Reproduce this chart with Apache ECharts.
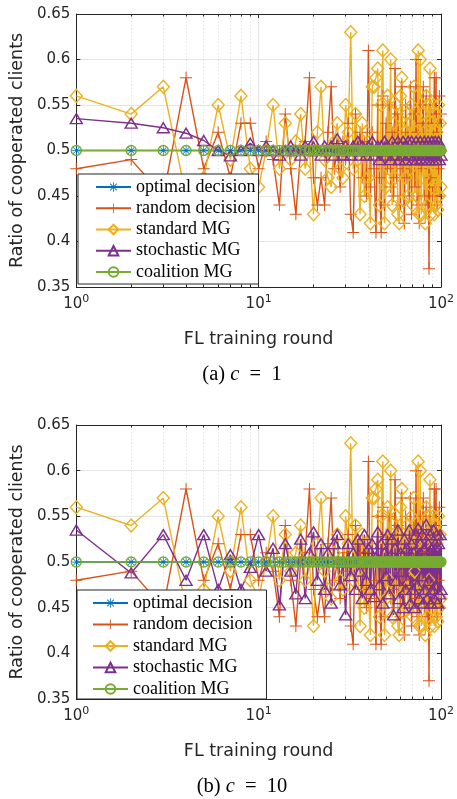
<!DOCTYPE html>
<html><head><meta charset="utf-8">
<script src="https://cdn.jsdelivr.net/npm/echarts@6/dist/echarts.min.js"></script>
<style>html,body{margin:0;padding:0;background:#fff}#c{width:457px;height:799px}</style>
</head><body><div id="c"></div>
<script>
const rounds = [1,2,3,4,5,6,7,8,9,10,11,12,13,14,15,16,17,18,19,20,21,22,23,24,25,26,27,28,29,30,31,32,33,34,35,36,37,38,39,40,41,42,43,44,45,46,47,48,49,50,51,52,53,54,55,56,57,58,59,60,61,62,63,64,65,66,67,68,69,70,71,72,73,74,75,76,77,78,79,80,81,82,83,84,85,86,87,88,89,90,91,92,93,94,95,96,97,98,99,100];
const yTicks = [0.35,0.4,0.45,0.5,0.55,0.6,0.65];
const seriesNames = ['optimal decision','random decision','standard MG','stochastic MG','coalition MG'];
const optimalDecision = [0.5,0.5,0.5,0.5,0.5,0.5,0.5,0.5,0.5,0.5,0.5,0.5,0.5,0.5,0.5,0.5,0.5,0.5,0.5,0.5,0.5,0.5,0.5,0.5,0.5,0.5,0.5,0.5,0.5,0.5,0.5,0.5,0.5,0.5,0.5,0.5,0.5,0.5,0.5,0.5,0.5,0.5,0.5,0.5,0.5,0.5,0.5,0.5,0.5,0.5,0.5,0.5,0.5,0.5,0.5,0.5,0.5,0.5,0.5,0.5,0.5,0.5,0.5,0.5,0.5,0.5,0.5,0.5,0.5,0.5,0.5,0.5,0.5,0.5,0.5,0.5,0.5,0.5,0.5,0.5,0.5,0.5,0.5,0.5,0.5,0.5,0.5,0.5,0.5,0.5,0.5,0.5,0.5,0.5,0.5,0.5,0.5,0.5,0.5,0.5];
const coalitionMG = [0.5,0.5,0.5,0.5,0.5,0.5,0.5,0.5,0.5,0.5,0.5,0.5,0.5,0.5,0.5,0.5,0.5,0.5,0.5,0.5,0.5,0.5,0.5,0.5,0.5,0.5,0.5,0.5,0.5,0.5,0.5,0.5,0.5,0.5,0.5,0.5,0.5,0.5,0.5,0.5,0.5,0.5,0.5,0.5,0.5,0.5,0.5,0.5,0.5,0.5,0.5,0.5,0.5,0.5,0.5,0.5,0.5,0.5,0.5,0.5,0.5,0.5,0.5,0.5,0.5,0.5,0.5,0.5,0.5,0.5,0.5,0.5,0.5,0.5,0.5,0.5,0.5,0.5,0.5,0.5,0.5,0.5,0.5,0.5,0.5,0.5,0.5,0.5,0.5,0.5,0.5,0.5,0.5,0.5,0.5,0.5,0.5,0.5,0.5,0.5];
const randomDecision = [0.48,0.49,0.45,0.58,0.48,0.52,0.47,0.53,0.53,0.48,
0.51,0.49,0.44,0.54,0.48,0.43,0.50,0.51,0.58,0.47,
0.44,0.47,0.44,0.52,0.57,0.48,0.50,0.46,0.51,0.49,
0.53,0.43,0.41,0.54,0.50,0.52,0.47,0.51,0.45,0.61,
0.46,0.52,0.48,0.41,0.55,0.47,0.41,0.56,0.44,0.53,
0.48,0.55,0.46,0.52,0.45,0.59,0.47,0.54,0.49,0.44,
0.57,0.48,0.42,0.55,0.47,0.52,0.45,0.57,0.43,0.50,
0.54,0.46,0.60,0.44,0.52,0.42,0.55,0.48,0.53,0.57,
0.45,0.51,0.56,0.44,0.53,0.37,0.55,0.47,0.54,0.45,
0.52,0.58,0.46,0.58,0.44,0.53,0.48,0.56,0.45,0.54];
const standardMG = [0.56,0.54,0.57,0.45,0.47,0.55,0.49,0.56,0.48,0.46,
0.50,0.55,0.48,0.53,0.49,0.51,0.54,0.48,0.50,0.43,
0.52,0.57,0.49,0.47,0.46,0.51,0.53,0.48,0.47,0.55,
0.52,0.63,0.48,0.54,0.49,0.43,0.53,0.45,0.52,0.47,
0.42,0.57,0.57,0.58,0.59,0.44,0.55,0.61,0.42,0.46,
0.56,0.48,0.60,0.44,0.53,0.47,0.55,0.43,0.42,0.56,
0.58,0.445,0.52,0.47,0.54,0.45,0.53,0.48,0.55,0.44,
0.57,0.49,0.52,0.45,0.61,0.43,0.60,0.43,0.54,0.47,
0.52,0.42,0.56,0.44,0.55,0.48,0.59,0.43,0.53,0.46,
0.55,0.43,0.54,0.44,0.52,0.435,0.55,0.45,0.53,0.46];
const stochasticMG_c1 = [0.535,0.53,0.525,0.519,0.511,0.50,0.494,0.50,0.508,0.50,
0.505,0.50,0.495,0.50,0.505,0.50,0.495,0.505,0.50,0.51,
0.50,0.495,0.505,0.50,0.505,0.495,0.513,0.50,0.495,0.505,
0.50,0.495,0.505,0.50,0.51,0.495,0.505,0.50,0.495,0.505,
0.50,0.51,0.495,0.50,0.505,0.49,0.505,0.50,0.51,0.495,
0.505,0.50,0.49,0.51,0.495,0.505,0.50,0.51,0.49,0.505,
0.495,0.51,0.50,0.49,0.505,0.51,0.495,0.50,0.51,0.49,
0.505,0.495,0.51,0.49,0.505,0.50,0.51,0.49,0.505,0.495,
0.51,0.49,0.505,0.50,0.51,0.49,0.505,0.495,0.51,0.49,
0.505,0.495,0.51,0.49,0.505,0.50,0.51,0.49,0.505,0.495];
const stochasticMG_c10 = [0.535,0.488,0.53,0.48,0.53,0.47,0.508,0.47,0.494,0.53,
0.49,0.515,0.453,0.52,0.49,0.465,0.525,0.46,0.51,0.533,
0.48,0.52,0.47,0.51,0.455,0.52,0.53,0.475,0.50,0.442,
0.52,0.485,0.51,0.47,0.525,0.49,0.46,0.53,0.48,0.515,
0.47,0.52,0.462,0.505,0.533,0.475,0.52,0.455,0.51,0.485,
0.53,0.465,0.50,0.525,0.442,0.515,0.48,0.535,0.46,0.51,
0.49,0.45,0.525,0.47,0.515,0.48,0.535,0.455,0.52,0.47,
0.51,0.45,0.53,0.475,0.537,0.46,0.52,0.485,0.53,0.455,
0.515,0.47,0.541,0.46,0.52,0.48,0.53,0.455,0.515,0.47,
0.535,0.46,0.52,0.475,0.53,0.455,0.52,0.465,0.53,0.47];

const colors = ['#0072BD','#D95319','#EDB120','#7E2F8E','#77AC30'];
const asterisk = 'path://M11,0h2v24h-2zM0,11h24v2h-24zM4.2,2.8L21.2,19.8L19.8,21.2L2.8,4.2zM19.8,2.8L21.2,4.2L4.2,21.2L2.8,19.8z';
const plus = 'path://M11,0h2v11h11v2h-11v11h-2v-11h-11v-2h11z';
const symbols = [asterisk, plus, 'diamond', 'triangle', 'circle'];
const symSizes = [9, 12, [12,13], [12,10], 10];
const hollow = [false, false, true, true, true];

function pairs(arr){ return rounds.map((r,i)=>[r, arr[i]]); }

function makeSeries(gi, dataArrs){
  return dataArrs.map((arr, k)=>({
    name: seriesNames[k], type:'line', xAxisIndex: gi*2, yAxisIndex: gi*2,
    data: pairs(arr), symbol: symbols[k], symbolSize: symSizes[k], showAllSymbol: true,
    color: colors[k],
    lineStyle: {color: colors[k], width: 1.4},
    itemStyle: hollow[k] ? {color:'rgba(255,255,255,0)', borderColor: colors[k], borderWidth: 1.4} : {color: colors[k], borderWidth:0},
    emphasis: {disabled: true}, z: 2
  }));
}

const axisCol = '#262626';
const sansFont = 'DejaVu Sans';
function xAx(gi, top){
  return {
    type:'log', logBase:10, min:1, max:100, gridIndex: gi, position: top ? 'top':'bottom',
    axisLine:{show:true, lineStyle:{color:axisCol, width:1}},
    axisTick:{show:true, inside:true, length:4, lineStyle:{color:axisCol}},
    minorTick:{show:true, splitNumber:9, length:2.5, lineStyle:{color:axisCol}},
    splitLine:{show: !top, lineStyle:{color:'#e3e3e3', width:1}},
    minorSplitLine:{show: !top, lineStyle:{color:'#e6e6e6', type:[1.5,2], width:1}},
    axisLabel:{show: !top, margin:7, color:axisCol, fontFamily:sansFont, fontSize:15,
      formatter: v => '10{s|' + Math.round(Math.log10(v)) + '}',
      rich:{s:{fontSize:11, fontFamily:sansFont, color:axisCol, padding:[0,0,9,0]}}},
    name: top ? '' : 'FL training round', nameLocation:'middle', nameGap:43,
    nameTextStyle:{fontFamily:sansFont, fontSize:17.5, color:axisCol}
  };
}
function yAx(gi, right){
  return {
    type:'value', min:0.35, max:0.65, interval:0.05, gridIndex: gi, position: right ? 'right':'left',
    axisLine:{show:true, lineStyle:{color:axisCol, width:1}},
    axisTick:{show:true, inside:true, length:4, lineStyle:{color:axisCol}},
    splitLine:{show: !right, lineStyle:{color:'#e3e3e3', width:1}},
    axisLabel:{show: !right, margin:6, color:axisCol, fontFamily:sansFont, fontSize:15},
    name: right ? '' : 'Ratio of cooperated clients', nameLocation:'middle', nameGap:49,
    nameTextStyle:{fontFamily:sansFont, fontSize:17.5, color:axisCol}
  };
}
function legend(left, top, pad, gap){
  return {
    orient:'vertical', left:left, top:top, itemWidth:35, itemHeight:12, itemGap:gap,
    padding: pad, backgroundColor:'#fff', borderColor:axisCol, borderWidth:1, borderRadius:0,
    textStyle:{fontFamily:'Liberation Serif', fontSize:18, color:'#000'},
    data: seriesNames, selectedMode:false, z: 20
  };
}

const chart = echarts.init(document.getElementById('c'), null, {renderer:'canvas'});
chart.setOption({
  animation:false, backgroundColor:'#fff',
  grid:[
    {left:76, top:14, width:367, height:273, show:false},
    {left:76, top:425, width:367, height:274, show:false}
  ],
  xAxis:[xAx(0,false), xAx(0,true), xAx(1,false), xAx(1,true)],
  yAxis:[yAx(0,false), yAx(0,true), yAx(1,false), yAx(1,true)],
  legend:[legend(78,174,[4,3,3,17],3.25), legend(77,590,[4,14,1,15],3.5)],
  series: makeSeries(0, [optimalDecision, randomDecision, standardMG, stochasticMG_c1, coalitionMG])
    .concat(makeSeries(1, [optimalDecision, randomDecision, standardMG, stochasticMG_c10, coalitionMG])),
  graphic:[
    {type:'text', x:242, y:375, z:30, style:{text:'(a) {i|c}  =  1', fontFamily:'Liberation Serif', fontSize:20.5, fill:'#000', align:'center', verticalAlign:'middle',
      rich:{i:{fontFamily:'Liberation Serif', fontStyle:'italic', fontSize:20.5, fill:'#000'}}}},
    {type:'text', x:242, y:787, z:30, style:{text:'(b) {i|c}  =  10', fontFamily:'Liberation Serif', fontSize:20.5, fill:'#000', align:'center', verticalAlign:'middle',
      rich:{i:{fontFamily:'Liberation Serif', fontStyle:'italic', fontSize:20.5, fill:'#000'}}}}
  ]
});
</script></body></html>
